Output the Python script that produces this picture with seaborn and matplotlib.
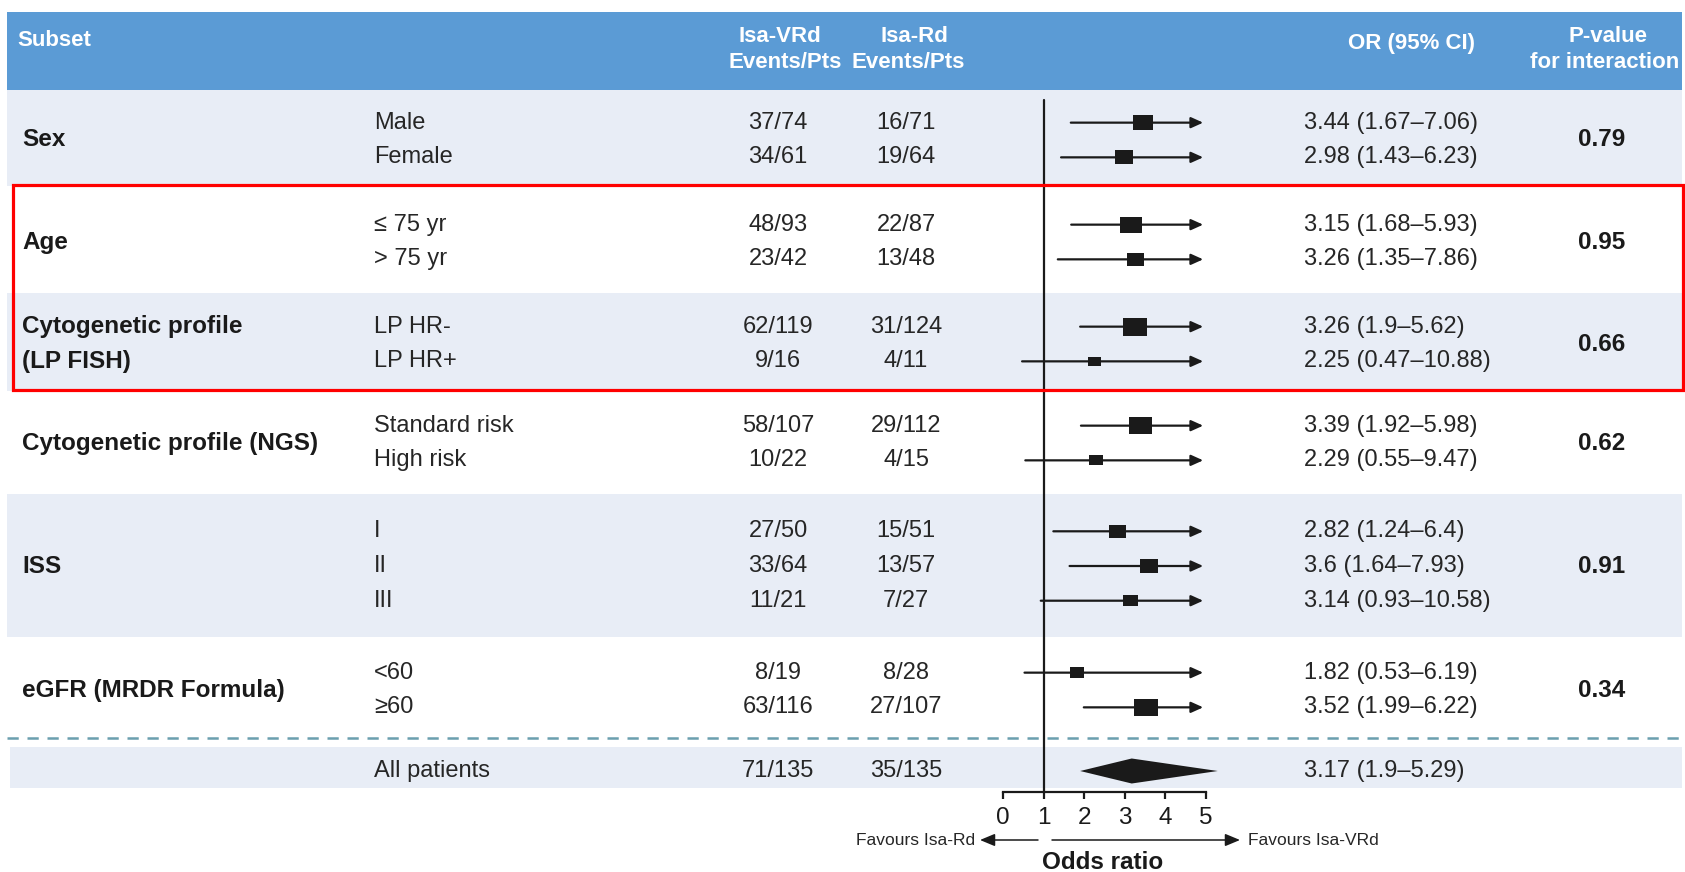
import numpy as np
import pandas as pd
import matplotlib
matplotlib.use("Agg")
import matplotlib.pyplot as plt
import seaborn as sns
from matplotlib.patches import Rectangle, Polygon

sns.set_theme(style="white")
plt.rcParams["font.family"] = ["Liberation Sans", "DejaVu Sans"]

# ---- data -------------------------------------------------------------
groups = ["Sex", "Age", "Cytogenetic profile\n(LP FISH)",
          "Cytogenetic profile (NGS)", "ISS", "eGFR (MRDR Formula)"]
group_sizes = [2, 2, 2, 2, 3, 2]
p_interaction = ["0.79", "0.95", "0.66", "0.62", "0.91", "0.34"]

subgroups = ["Male", "Female", "\u2264 75 yr", "> 75 yr", "LP HR-", "LP HR+",
             "Standard risk", "High risk", "I", "II", "III", "<60", "\u226560"]
vrd_events = [37, 34, 48, 23, 62, 9, 58, 10, 27, 33, 11, 8, 63]
vrd_pts = [74, 61, 93, 42, 119, 16, 107, 22, 50, 64, 21, 19, 116]
rd_events = [16, 19, 22, 13, 31, 4, 29, 4, 15, 13, 7, 8, 27]
rd_pts = [71, 64, 87, 48, 124, 11, 112, 15, 51, 57, 27, 28, 107]
odds_ratio = [3.44, 2.98, 3.15, 3.26, 3.26, 2.25, 3.39, 2.29, 2.82, 3.6, 3.14, 1.82, 3.52]
ci_low = [1.67, 1.43, 1.68, 1.35, 1.9, 0.47, 1.92, 0.55, 1.24, 1.64, 0.93, 0.53, 1.99]
ci_high = [7.06, 6.23, 5.93, 7.86, 5.62, 10.88, 5.98, 9.47, 6.4, 7.93, 10.58, 6.19, 6.22]

overall_label = "All patients"
overall_vrd = (71, 135)
overall_rd = (35, 135)
overall_or, overall_low, overall_high = 3.17, 1.9, 5.29

x_ticks = [0, 1, 2, 3, 4, 5]

# ---- layout (pixel units, y grows downward) -----------------------------
W, H = 1685, 872
group_centers = [140, 242, 344, 443, 566, 690]
row_pitch = 34.7
band_edges = [90, 186, 293, 391, 494, 637, 735]
overall_y = 771
axis_y = 792
px_per_unit = 40.6
zero_px = 1003
fx0, fx1 = 940, 1260

LIGHT = "#E8EDF6"
HEAD = "#5B9BD5"
INK = "#262626"

rows_y = []
for c, n in zip(group_centers, group_sizes):
    rows_y += [c + (i - (n - 1) / 2) * row_pitch for i in range(n)]

df = pd.DataFrame({
    "label": subgroups, "y": rows_y,
    "vrd": [f"{a}/{b}" for a, b in zip(vrd_events, vrd_pts)],
    "rd": [f"{a}/{b}" for a, b in zip(rd_events, rd_pts)],
    "or_est": odds_ratio, "lo": ci_low, "hi": ci_high,
    "n_total": np.array(vrd_pts) + np.array(rd_pts),
})

fig = plt.figure(figsize=(W / 100, H / 100), dpi=100)
bg = fig.add_axes([0, 0, 1, 1])
bg.set_xlim(0, W)
bg.set_ylim(H, 0)
bg.axis("off")

# header band and alternating row bands
bg.add_patch(Rectangle((7, 12), 1675, 78, color=HEAD, lw=0))
for i in range(len(band_edges) - 1):
    if i % 2 == 0:
        bg.add_patch(Rectangle((7, band_edges[i]), 1675,
                               band_edges[i + 1] - band_edges[i], color=LIGHT, lw=0))
bg.add_patch(Rectangle((10, 747), 1672, 41, color=LIGHT, lw=0))
bg.plot([7, 1685], [738, 738], color="#6B9FAE", lw=1.8, dashes=(4.5, 3.5))

# header text
hkw = dict(color="white", fontweight="bold", fontsize=16, va="center")
bg.text(17, 40, "Subset", ha="left", **hkw)
bg.text(780, 36, "Isa-VRd", ha="center", **hkw)
bg.text(785, 62, "Events/Pts", ha="center", **hkw)
bg.text(914, 36, "Isa-Rd", ha="center", **hkw)
bg.text(908, 62, "Events/Pts", ha="center", **hkw)
bg.text(1411, 44, "OR (95% CI)", ha="center", **hkw)
bg.text(1608, 36, "P-value", ha="center", **hkw)
bg.text(1605, 62, "for interaction", ha="center", **hkw)

# group labels and interaction p-values
start = 0
for g, n, c, p in zip(groups, group_sizes, group_centers, p_interaction):
    lines = g.split("\n")
    if len(lines) == n:
        for ln, yy in zip(lines, rows_y[start:start + n]):
            bg.text(22, yy, ln, ha="left", va="center", fontsize=17.5,
                    fontweight="bold", color="#1a1a1a")
    else:
        bg.text(22, c, g, ha="left", va="center", fontsize=17.5,
                fontweight="bold", color="#1a1a1a")
    bg.text(1602, c, p, ha="center", va="center", fontsize=17.5,
            fontweight="bold", color="#1a1a1a")
    start += n

# row text
for r in df.itertuples():
    bg.text(374, r.y, r.label, ha="left", va="center", fontsize=17, color=INK)
    bg.text(778, r.y, r.vrd, ha="center", va="center", fontsize=17, color=INK)
    bg.text(906, r.y, r.rd, ha="center", va="center", fontsize=17, color=INK)
    bg.text(1304, r.y, f"{r.or_est:g} ({r.lo:g}\u2013{r.hi:g})", ha="left",
            va="center", fontsize=17, color=INK)

bg.text(374, overall_y, overall_label, ha="left", va="center", fontsize=17, color=INK)
bg.text(778, overall_y, f"{overall_vrd[0]}/{overall_vrd[1]}", ha="center",
        va="center", fontsize=17, color=INK)
bg.text(906, overall_y, f"{overall_rd[0]}/{overall_rd[1]}", ha="center",
        va="center", fontsize=17, color=INK)
bg.text(1304, overall_y, f"{overall_or:g} ({overall_low:g}\u2013{overall_high:g})",
        ha="left", va="center", fontsize=17, color=INK)

# ---- forest panel ------------------------------------------------------
fax = fig.add_axes([fx0 / W, 0, (fx1 - fx0) / W, 1])
fax.set_facecolor("none")
fax.set_xlim((fx0 - zero_px) / px_per_unit, (fx1 - zero_px) / px_per_unit)
fax.set_ylim(H, 0)

cap = 4.93
for r in df.itertuples():
    end = min(r.hi, cap)
    style = "-|>,head_length=0.6,head_width=0.27" if r.hi > x_ticks[-1] else "-"
    fax.annotate("", xy=(end, r.y), xytext=(r.lo, r.y),
                 arrowprops=dict(arrowstyle=style, lw=1.6, color="#1a1a1a",
                                 shrinkA=0, shrinkB=0, mutation_scale=12))

verts = [(-1.35, -1), (1.35, -1), (1.35, 1), (-1.35, 1), (-1.35, -1)]
sns.scatterplot(data=df, x="or_est", y="y", size="n_total", sizes=(88, 300),
                marker=verts, color="#1a1a1a", edgecolor="none", linewidth=0,
                legend=False, ax=fax, zorder=4)

fax.add_patch(Polygon([(overall_low, overall_y), (overall_or, overall_y - 12.5),
                       (overall_high, overall_y), (overall_or, overall_y + 12.5)],
                      closed=True, color="#1a1a1a", lw=0))

fax.plot([1, 1], [100, axis_y], color="#1a1a1a", lw=1.6)

for s in ["top", "left", "right"]:
    fax.spines[s].set_visible(False)
fax.spines["bottom"].set_position(("data", axis_y))
fax.spines["bottom"].set_bounds(x_ticks[0], x_ticks[-1])
fax.spines["bottom"].set_linewidth(1.6)
fax.spines["bottom"].set_color("#1a1a1a")
fax.set_xticks(x_ticks)
fax.set_yticks([])
fax.tick_params(axis="x", direction="out", length=5, width=1.6, colors="#1a1a1a",
                labelsize=17.5, pad=6, bottom=True)
fax.set_xlabel("")
fax.set_ylabel("")

# favours arrows and axis title
akw = dict(arrowstyle="-|>,head_length=0.6,head_width=0.25", lw=1.1,
           color="#1a1a1a", shrinkA=0, shrinkB=0, mutation_scale=15)
bg.annotate("", xy=(980, 840), xytext=(1038, 840), arrowprops=akw)
bg.annotate("", xy=(1240, 840), xytext=(1052, 840), arrowprops=akw)
bg.text(975, 840, "Favours Isa-Rd", ha="right", va="center", fontsize=12.5,
        color=INK)
bg.text(1248, 840, "Favours Isa-VRd", ha="left", va="center", fontsize=12.5,
        color=INK)
bg.text(1103, 862, "Odds ratio", ha="center", va="center", fontsize=17.5,
        fontweight="bold", color="#1a1a1a")

# highlight box
fig.add_artist(Rectangle((13, 185), 1670, 205, fill=False, ec="#FF0000", lw=2.3,
                         transform=bg.transData, zorder=10))

fig.savefig("out.png", dpi=100)
